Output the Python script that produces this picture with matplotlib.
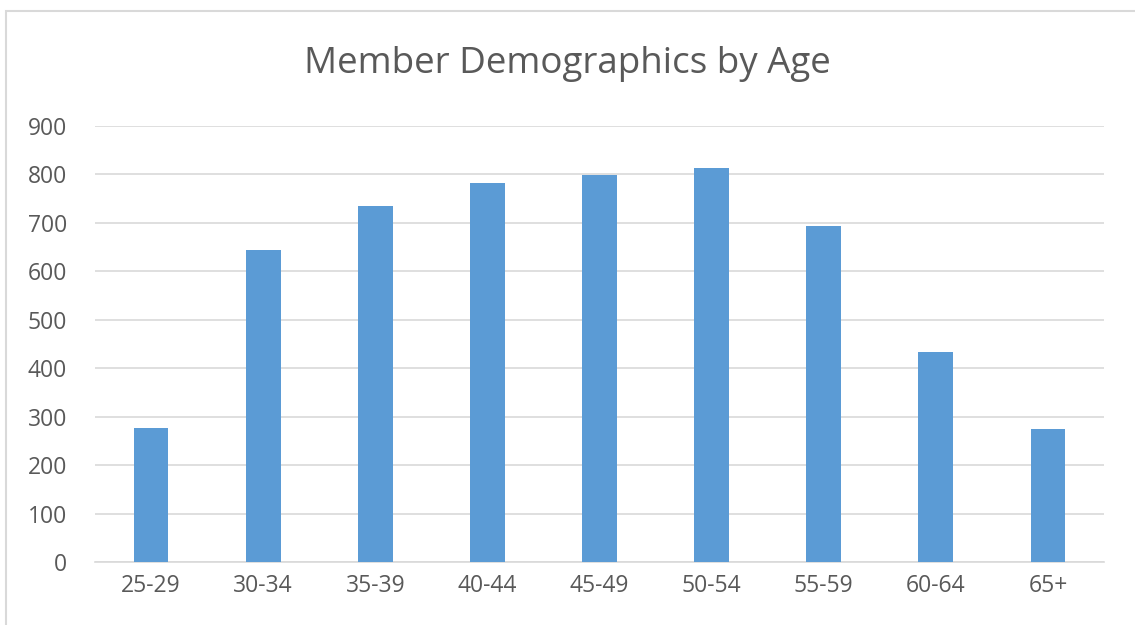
import matplotlib.pyplot as plt
from matplotlib.patches import Rectangle

ages = ['25-29', '30-34', '35-39', '40-44', '45-49', '50-54', '55-59', '60-64', '65+']
members = [276, 644, 735, 782, 799, 813, 694, 433, 275]
yticks = [0, 100, 200, 300, 400, 500, 600, 700, 800, 900]

plt.rcParams['font.family'] = ['Open Sans', 'DejaVu Sans']
text_color = '#595959'

fig = plt.figure(figsize=(11.35, 6.25), dpi=100)
ax = fig.add_axes([0.0837, 0.1008, 0.889, 0.6976])

ax.bar(range(len(ages)), members, width=0.31, color='#5b9bd5', zorder=3)
ax.set_xlim(-0.5, len(ages) - 0.5)
ax.set_ylim(0, 900)
ax.set_yticks(yticks)
ax.set_xticks(range(len(ages)))
ax.set_xticklabels(ages)
ax.grid(axis='y', color='#d9d9d9', linewidth=1.2, zorder=0)
ax.tick_params(length=0, labelsize=16.5, colors=text_color)
ax.tick_params(axis='x', pad=9)
ax.tick_params(axis='y', pad=20)
for s in ['top', 'right', 'left']:
    ax.spines[s].set_visible(False)
ax.spines['bottom'].set_color('#d9d9d9')
ax.spines['bottom'].set_linewidth(1.2)

fig.text(0.5, 0.897, 'Member Demographics by Age', ha='center', va='center',
         fontsize=26.5, color=text_color)

# outer chart frame (right edge runs off the picture)
fig.patches.append(Rectangle((6 / 1135, -0.01), 1.0, 1 - 11 / 625 + 0.01,
                             transform=fig.transFigure, fill=False,
                             edgecolor='#d9d9d9', linewidth=1.5))

plt.savefig('out.png', dpi=100)
